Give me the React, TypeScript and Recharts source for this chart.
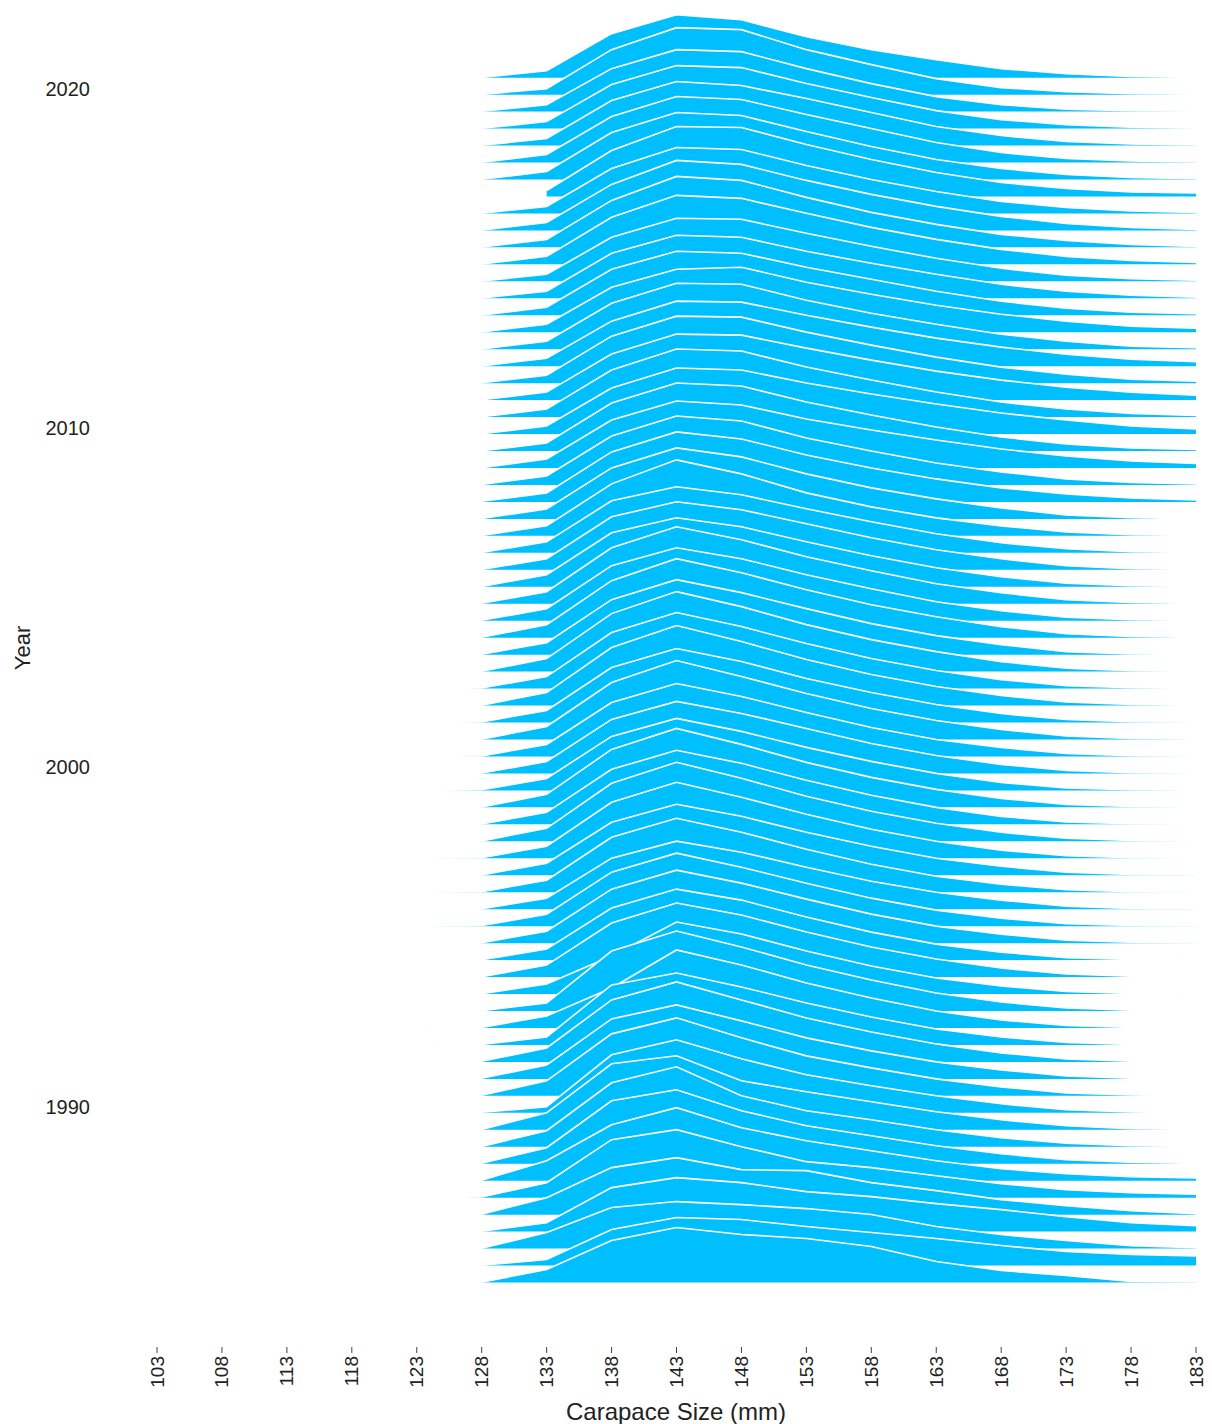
import React from "react";
import { ComposedChart, Area, XAxis, YAxis, Label } from "recharts";

// carapace size classes (mm) that carry a value
const sizes = [118, 123, 128, 133, 138, 143, 148, 153, 158, 163, 168, 173, 178, 183];
const sizeTicks = [103, 108, 113, 118, 123, 128, 133, 138, 143, 148, 153, 158, 163, 168, 173, 178, 183];
const yearTicks = [1990, 2000, 2010, 2020];

// one ridge per half year, oldest sample 1985
const firstSeason = 1985;
const seasonStep = 0.5;

const n = null;
// relative frequency by size class, newest ridge (2020.5) first
const ridgeHeights: (number | null)[][] = [
  [n, n, 0.3, 7, 44, 63, 58, 41, 28, 18, 9, 4, 1.3, 0.3],
  [n, n, 0.3, 6, 45, 67, 65, 45, 30, 16, 7, 3, 1, 0.4],
  [n, n, 0.3, 7, 43, 62, 60, 43, 28, 15, 7, 2.5, 0.8, 0.3],
  [n, n, 0.3, 7, 44, 63, 61, 45, 31, 18, 9, 4, 1.5, 0.5],
  [n, n, 0.3, 7, 45, 64, 60, 47, 33, 19, 10, 4, 1.5, 0.5],
  [n, n, 0.3, 8, 46, 66, 63, 48, 34, 20, 10, 4, 1.5, 0.6],
  [n, n, 0.3, 8, 47, 67, 64, 48, 33, 20, 11, 5, 2, 0.8],
  [n, n, n, 6, 46, 70, 69, 52, 37, 24, 14, 8, 4.5, 3.5],
  [n, n, 0.3, 7, 45, 66, 64, 48, 34, 22, 12, 6, 2.5, 1],
  [n, n, 0.3, 8, 46, 70, 66, 50, 36, 24, 14, 7, 3, 1],
  [n, n, 0.3, 8, 47, 71, 67, 50, 35, 23, 13, 7, 3, 1],
  [n, n, 0.3, 8, 47, 69, 66, 51, 37, 25, 15, 8, 4, 2],
  [n, n, 0.3, 7, 44, 63, 62, 48, 35, 23, 13, 6, 2.5, 1],
  [n, n, 0.3, 7, 45, 63, 61, 47, 35, 24, 14, 7, 3, 1],
  [n, n, 0.3, 8, 46, 64, 62, 48, 36, 24, 14, 7, 3, 1.5],
  [n, n, 0.3, 8, 45, 63, 65, 50, 38, 27, 18, 11, 6, 4],
  [n, n, 0.3, 8, 46, 66, 65, 49, 36, 25, 15, 8, 3, 1.5],
  [n, n, 0.3, 8, 45, 65, 64, 51, 39, 28, 19, 12, 7, 4.5],
  [n, n, 0.3, 8, 47, 67, 66, 51, 38, 26, 16, 9, 4, 2],
  [n, n, 0.3, 8, 46, 66, 65, 52, 40, 29, 20, 13, 8, 5],
  [n, n, 0.3, 8, 47, 68, 66, 50, 37, 25, 15, 8, 3.5, 1.5],
  [n, n, 0.3, 8, 46, 66, 64, 51, 40, 30, 21, 14, 8, 5],
  [n, n, 0.3, 8, 48, 68, 65, 49, 36, 24, 14, 7, 3, 1.5],
  [n, n, 0.3, 9, 48, 67, 63, 49, 38, 28, 19, 12, 7, 4.5],
  [n, n, 0.4, 9, 49, 69, 64, 47, 34, 22, 13, 6, 2.5, 1],
  [n, 0, 0.6, 9, 50, 70, 63, 47, 34, 23, 14, 8, 4, 2],
  [n, n, 0.4, 10, 51, 71, 62, 45, 31, 20, 11, 4, 1.2, 0.3],
  [n, n, 0.4, 10, 52, 76, 62, 43, 29, 18, 10, 4, 1.2, 0.4],
  [n, n, 0.4, 11, 52, 66, 58, 44, 31, 19, 10, 4, 1.2, 0.3],
  [n, n, 0.4, 11, 53, 68, 60, 46, 32, 20, 11, 4, 1.2, 0.3],
  [n, n, 0.4, 12, 54, 69, 60, 45, 31, 19, 10, 3.5, 1, 0.2],
  [n, n, 0.4, 12, 56, 77, 64, 47, 33, 20, 11, 4, 1.2, 0.3],
  [n, n, 0.4, 12, 55, 73, 62, 46, 32, 19, 10, 3.5, 1, 0.2],
  [n, n, 0.4, 13, 57, 79, 65, 48, 33, 21, 11, 4, 1.2, 0.3],
  [n, n, 0.4, 12, 55, 75, 62, 46, 31, 19, 10, 3, 0.8, 0.2],
  [n, n, 0.4, 13, 58, 80, 65, 47, 32, 20, 10, 3.5, 1, 0.2],
  [n, 0, 0.6, 12, 56, 76, 62, 45, 30, 18, 9, 3, 0.8, 0.2],
  [n, n, 0.4, 13, 58, 80, 64, 46, 31, 19, 10, 3.5, 1, 0.2],
  [n, 0, 0.6, 12, 55, 74, 61, 44, 30, 18, 9, 3, 0.8, 0.2],
  [n, n, 0.4, 13, 57, 79, 63, 46, 31, 19, 10, 3.5, 1, 0.2],
  [n, 0, 0.6, 12, 54, 73, 60, 44, 29, 17, 9, 3, 0.8, 0.2],
  [n, n, 0.4, 12, 54, 72, 60, 45, 30, 18, 9, 3, 0.8, 0.2],
  [n, 0, 0.6, 12, 54, 72, 59, 43, 29, 17, 8, 2.5, 0.6, 0.1],
  [n, n, 0.4, 13, 58, 79, 63, 45, 30, 18, 9, 3, 0.8, 0.2],
  [n, n, 0.4, 12, 55, 74, 61, 44, 29, 17, 8, 2.5, 0.6, 0.1],
  [n, n, 0.4, 13, 58, 79, 63, 45, 30, 18, 9, 3, 0.8, 0.2],
  [n, 0, 0.6, 12, 56, 76, 61, 44, 29, 17, 8, 2.5, 0.6, 0.1],
  [n, n, 0.4, 12, 53, 71, 59, 43, 29, 17, 9, 3, 0.8, 0.2],
  [n, 0, 0.6, 12, 55, 74, 60, 43, 28, 16, 8, 2.5, 0.6, 0.1],
  [n, n, 0.4, 11, 51, 68, 57, 42, 28, 17, 9, 3, 0.8, 0.2],
  [n, 0, 0.6, 12, 54, 73, 59, 43, 28, 16, 8, 2.5, 0.6, 0.1],
  [n, n, 0.4, 12, 54, 73, 60, 44, 29, 17, 9, 3, 0.8, 0.2],
  [n, n, 0.4, 11, 52, 71, 60, 43, 28, 16, 8, 2.5, 0.6, 0.1],
  [n, n, 0.4, 12, 54, 74, 62, 45, 30, 18, 9, 3, 0.8, 0.2],
  [n, n, 0.4, 10, 38, 72, 60, 43, 28, 16, 8, 2.5, 0.6, 0.1],
  [n, n, 0.4, 8, 60, 80, 64, 46, 31, 18, 9, 3, 0.8, 0.2],
  [n, 0, 0.6, 12, 40, 78, 63, 45, 30, 17, 8, 2.5, 0.6, 0.1],
  [n, 0, 0.5, 8, 60, 72, 58, 42, 28, 16, 8, 2.5, 0.6, 0.1],
  [n, 0, 0.6, 14, 62, 80, 62, 44, 30, 18, 9, 3, 0.8, 0.2],
  [0, 0.2, 0.6, 14, 60, 74, 58, 41, 28, 17, 9, 3, 0.8, 0.2],
  [n, 0, 0.6, 15, 62, 78, 58, 40, 28, 17, 9, 3, 0.8, 0.2],
  [n, 0, 0.5, 6, 58, 73, 54, 38, 27, 17, 9, 3, 0.8, 0.2],
  [n, n, 0.4, 17, 66, 74, 49, 38, 28, 18, 10, 4, 1.2, 0.3],
  [n, n, 0.4, 16, 64, 80, 51, 36, 27, 17, 9, 3.5, 1, 0.2],
  [n, n, 0.4, 16, 63, 74, 53, 38, 28, 18, 10, 4, 1.5, 0.4],
  [n, n, 0.4, 20, 56, 73, 53, 40, 30, 20, 12, 7, 4, 2.8],
  [n, 0, 0.6, 15, 58, 68, 51, 36, 30, 22, 14, 8, 5, 3.5],
  [n, n, 0.4, 17, 47, 57, 45, 44, 32, 24, 15, 9, 4, 1],
  [n, n, 0.4, 9, 44, 54, 49, 40, 35, 28, 22, 15, 9, 6],
  [n, n, 0.4, 16, 41, 47, 44, 40, 34, 22, 14, 8, 3, 1],
  [n, n, 0.4, 6, 36, 48, 46, 39, 33, 27, 20, 14, 11, 9.5],
  [n, n, 0.4, 13, 42, 55, 48, 44, 36, 21, 12, 7, 1, 0.5],
];

// one frequency unit drawn at the height of one px of year axis
const RIDGE_SCALE = 1 / 33.94;
const latestSeason = firstSeason + (ridgeHeights.length - 1) * seasonStep;
const ridgeBase = ridgeHeights.map((_, i) => latestSeason - i * seasonStep);

const chartData = sizes.map((size, j) => {
  const row: Record<string, number | null> = { size };
  ridgeHeights.forEach((h, i) => {
    const v = h[j];
    row[`r${i}`] = v == null ? null : ridgeBase[i] + v * RIDGE_SCALE;
  });
  return row;
});

const FONT = "'Liberation Sans', Arial, sans-serif";
const TEXT = "#222";

const SizeTick = (props: any) => {
  const { x, y, payload } = props;
  const ty = y + 1;
  return (
    <text
      x={x}
      y={ty}
      transform={`rotate(-90, ${x}, ${ty})`}
      textAnchor="end"
      dominantBaseline="central"
      fontSize={19}
      fontFamily={FONT}
      fill={TEXT}
    >
      {payload.value}
    </text>
  );
};

const YearTick = (props: any) => {
  const { y, payload } = props;
  return (
    <text
      x={90}
      y={y - 6}
      textAnchor="end"
      dominantBaseline="central"
      fontSize={20}
      fontFamily={FONT}
      fill={TEXT}
    >
      {payload.value}
    </text>
  );
};

export default function App() {
  return (
    <div style={{ position: "absolute", left: 0, top: 0, width: 1212, height: 1424, background: "#fff" }}>
      <ComposedChart
        width={1212}
        height={1424}
        data={chartData}
        margin={{ top: 9.8, right: 16, bottom: 0, left: 0 }}
      >
        <XAxis
          type="number"
          dataKey="size"
          domain={[103, 183]}
          ticks={sizeTicks}
          interval={0}
          axisLine={false}
          tickLine={{ stroke: "#444" }}
          tickSize={6}
          height={77}
          tick={<SizeTick />}
        >
          <Label
            content={() => (
              <text x={676} y={1411} textAnchor="middle" dominantBaseline="central" fontSize={24} fontFamily={FONT} fill={TEXT}>
                Carapace Size (mm)
              </text>
            )}
          />
        </XAxis>
        <YAxis
          type="number"
          domain={[1983.1, 2022.5]}
          allowDataOverflow
          ticks={yearTicks}
          axisLine={false}
          tickLine={false}
          width={157}
          tick={<YearTick />}
        >
          <Label
            content={() => (
              <text
                x={22}
                y={648}
                transform="rotate(-90, 22, 648)"
                textAnchor="middle"
                dominantBaseline="central"
                fontSize={22}
                fontFamily={FONT}
                fill={TEXT}
              >
                Year
              </text>
            )}
          />
        </YAxis>
        {ridgeHeights.map((_, i) => (
          <Area
            key={i}
            dataKey={`r${i}`}
            type="linear"
            baseValue={ridgeBase[i]}
            fill="#00BFFF"
            fillOpacity={1}
            stroke="#ffffff"
            strokeWidth={1.6}
            dot={false}
            activeDot={false}
            isAnimationActive={false}
          />
        ))}
      </ComposedChart>
    </div>
  );
}
